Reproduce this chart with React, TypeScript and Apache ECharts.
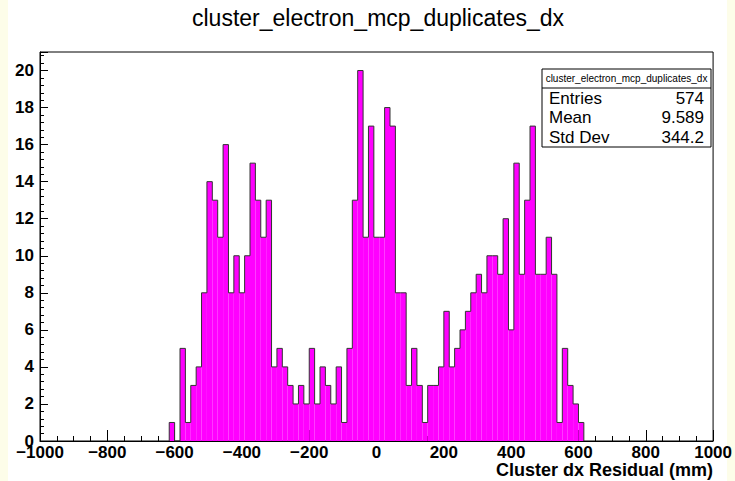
import React, { useEffect, useRef } from "react";
import * as echarts from "echarts";

const histTitle = "cluster_electron_mcp_duplicates_dx";
const xTitle = "Cluster dx Residual (mm)";
const binWidth = 16;
const firstEdge = -616;
const counts = [
  1, 0, 5, 1, 3, 4, 8, 14, 13, 11,
  16, 8, 10, 8, 10, 15, 13, 11, 13, 4,
  5, 4, 3, 2, 3, 2, 5, 2, 4, 3,
  2, 4, 1, 5, 13, 20, 11, 17, 11, 11,
  18, 17, 8, 8, 3, 5, 3, 1, 3, 3,
  4, 7, 4, 5, 6, 7, 8, 9, 8, 10,
  10, 9, 12, 6, 15, 9, 13, 17, 9, 9,
  11, 9, 1, 5, 3, 2, 1,
];
const statLabels = ["Entries", "Mean", "Std Dev"];
const statValues = ["574", "9.589", "344.2"];
const xMin = -1000, xMax = 1000, xInterval = 200;
const yMin = 0, yMax = 21, yInterval = 2;

const FONT = "Liberation Sans, Arial, Helvetica, sans-serif";

export default function App() {
  const ref = useRef<HTMLDivElement>(null);
  useEffect(() => {
    document.body.style.margin = "0";
    const chart = echarts.init(ref.current!, null, { renderer: "svg" });
    const bins = counts.map((c, i) => [firstEdge + i * binWidth, firstEdge + (i + 1) * binWidth, c]);
    const outline: number[][] = [];
    bins.forEach((b, i) => {
      if (i === 0) outline.push([b[0], 0]);
      outline.push([b[0], b[2]]);
      outline.push([b[1], b[2]]);
      if (i === bins.length - 1) outline.push([b[1], 0]);
    });
    const fmt = (v: number) => String(v).replace("-", "\u2212");
    const boxL = 542, boxR = 711, boxT = 69, boxB = 147;
    const graphics: any[] = [
      { type: "rect", z: -10, shape: { x: 8, y: 0, width: 719, height: 481 }, style: { fill: "#ffffff" } },
      {
        type: "text", x: 378, y: 18,
        style: { text: histTitle, font: `23px ${FONT}`, fill: "#000", align: "center", verticalAlign: "middle" },
      },
      {
        type: "text", x: 713, y: 470,
        style: { text: xTitle, font: `bold 18px ${FONT}`, fill: "#000", align: "right", verticalAlign: "middle" },
      },
      {
        type: "rect", z: 100, shape: { x: boxL, y: boxT, width: boxR - boxL, height: boxB - boxT },
        style: { fill: "#fff", stroke: "#000", lineWidth: 1 },
      },
      {
        type: "line", z: 101, shape: { x1: boxL, y1: 88, x2: boxR, y2: 88 },
        style: { stroke: "#000", lineWidth: 1 },
      },
      {
        type: "text", z: 102, x: (boxL + boxR) / 2, y: 78,
        style: { text: histTitle, font: `10px ${FONT}`, fill: "#000", align: "center", verticalAlign: "middle" },
      },
    ];
    statLabels.forEach((l, i) => {
      const y = 98 + i * 19.5;
      graphics.push({
        type: "text", z: 102, x: 549, y,
        style: { text: l, font: `17px ${FONT}`, fill: "#000", align: "left", verticalAlign: "middle" },
      });
      graphics.push({
        type: "text", z: 102, x: 704, y,
        style: { text: statValues[i], font: `17px ${FONT}`, fill: "#000", align: "right", verticalAlign: "middle" },
      });
    });

    chart.setOption({
      animation: false,
      backgroundColor: "#fdfde9",
      grid: {
        left: 40, right: 19, top: 52, bottom: 40,
        show: true, borderColor: "#000", borderWidth: 1, backgroundColor: "#fff", z: 0,
      },
      xAxis: {
        type: "value", min: xMin, max: xMax, interval: xInterval,
        splitLine: { show: false },
        axisLine: { show: true, onZero: false, lineStyle: { color: "#000", width: 1 } },
        axisTick: { show: true, inside: true, length: 11, lineStyle: { color: "#000" } },
        minorTick: { show: true, splitNumber: 4, length: 5, lineStyle: { color: "#000" } },
        axisLabel: {
          margin: 3, color: "#000", fontSize: 17, fontWeight: "bold", fontFamily: FONT,
          formatter: (v: number) => fmt(v),
        },
      },
      yAxis: {
        type: "value", min: yMin, max: yMax, interval: yInterval,
        splitLine: { show: false },
        axisLine: { show: true, onZero: false, lineStyle: { color: "#000", width: 1 } },
        axisTick: { show: true, inside: true, length: 8, lineStyle: { color: "#000" } },
        minorTick: { show: true, splitNumber: 5, length: 4, lineStyle: { color: "#000" } },
        axisLabel: {
          margin: 6, color: "#000", fontSize: 17, fontWeight: "bold", fontFamily: FONT,
          showMaxLabel: false,
          formatter: (v: number) => (v > 20 ? "" : fmt(v)),
        },
      },
      series: [
        {
          type: "custom",
          data: bins,
          encode: { x: [0, 1], y: 2 },
          renderItem: (params: any, api: any) => {
            const p0 = api.coord([api.value(0), api.value(2)]);
            const p1 = api.coord([api.value(1), 0]);
            return {
              type: "rect",
              shape: { x: p0[0], y: p0[1], width: p1[0] - p0[0], height: p1[1] - p0[1] },
              style: { fill: "#ff00ff" },
            };
          },
          z: 2,
        },
        {
          type: "line",
          data: outline,
          symbol: "none",
          lineStyle: { color: "#333", width: 1 },
          z: 3,
        },
      ],
      graphic: graphics,
    });
    return () => chart.dispose();
  }, []);
  return (
    <div
      ref={ref}
      style={{ position: "absolute", left: 0, top: 0, width: 735, height: 481 }}
    />
  );
}
